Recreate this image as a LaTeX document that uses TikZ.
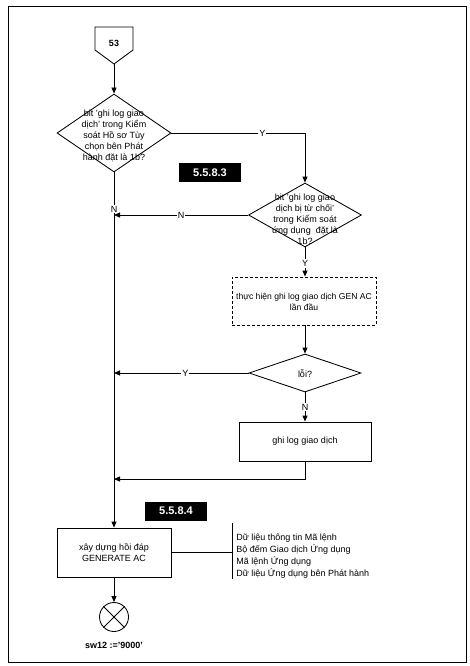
\documentclass[tikz,border=0pt]{standalone}
\usepackage{fontspec}
\setmainfont{Liberation Sans}
\usetikzlibrary{shapes.geometric,arrows.meta}
\begin{document}
\begin{tikzpicture}[x=1pt,y=-1pt,line width=0.85pt,
  txt/.style={font=\fontsize{9}{11}\selectfont,align=center,inner sep=0pt},
  dec/.style={diamond,draw,inner sep=0pt},
  proc/.style={rectangle,draw,inner sep=0pt},
  tag/.style={fill=black,text=white,font=\fontsize{11}{13}\selectfont\bfseries,minimum width=62pt,minimum height=19pt,inner sep=0pt},
  lbl/.style={fill=white,inner sep=1pt,font=\fontsize{9}{11}\selectfont},
  arr/.style={-{Triangle[length=6pt,width=5pt]}}]
\useasboundingbox (0,0) rectangle (470,666);
\draw[line width=1pt] (8,7) rectangle (466,662);

% off-page connector 53
\draw (95,27) -- (133,27) -- (133,50) -- (114,64) -- (95,50) -- cycle;
\node[txt,font=\fontsize{9}{11}\selectfont\bfseries] (c53) at (114,43) {53};
\coordinate (c53tip) at (114,64);

% decision 1
\node[dec,minimum width=114pt,minimum height=78pt] (d1) at (114,133) {};
\node[txt] (d1t) at (114,136) {bit 'ghi log giao\\dịch' trong Kiểm\\soát Hồ sơ Tùy\\chọn bên Phát\\hành đặt là 1b?};

% decision 2
\node[dec,minimum width=113pt,minimum height=64pt] (d2) at (305,215) {};
\node[txt] (d2t) at (305,219) {bit 'ghi log giao\\dịch bị từ chối'\\trong Kiểm soát\\ứng dụng\ \ đặt là\\1b?};

\node[tag] (t1) at (210,172.5) {5.5.8.3};

% dashed process
\node[proc,dashed,dash pattern=on 3pt off 2pt,minimum width=144pt,minimum height=48pt] (gen) at (304,301) {};
\node[txt,font=\fontsize{8.6}{11}\selectfont] (gent) at (304,302) {thực hiện ghi log giao dịch GEN AC\\lần đầu};

% decision 3
\node[dec,minimum width=112pt,minimum height=38pt] (d3) at (305,373) {};
\node[txt] (d3t) at (305,374) {lỗi?};

% log box
\node[proc,minimum width=132pt,minimum height=39pt,txt] (log) at (305,441.5) {ghi log giao dịch};

\node[tag] (t2) at (176,511) {5.5.8.4};

% build response
\node[proc,minimum width=114pt,minimum height=49pt,txt] (build) at (114,552.5) {xây dựng hồi đáp\\GENERATE AC};

% notes
\coordinate (bt) at (232,523);
\coordinate (bb) at (232,579);
\draw (bt) -- (bb);
\node[anchor=west,align=left,inner sep=0pt,font=\fontsize{9}{12}\selectfont] (notes) at (236,556.5)
 {Dữ liệu thông tin Mã lệnh\\Bộ đếm Giao dịch Ứng dụng\\Mã lệnh Ứng dụng\\Dữ liệu Ứng dụng bên Phát hành};
\draw (build.east) -- (build.east -| bt);

% end
\node[circle,draw,minimum size=29pt,inner sep=0pt] (endc) at (114,617) {};
\draw (endc.north west) -- (endc.south east);
\draw (endc.north east) -- (endc.south west);
\node[txt,font=\fontsize{9}{11}\selectfont\bfseries] (sw) at (114,645) {sw12 :='9000'};

% connectors
\coordinate (j1) at (114,215);
\coordinate (j2) at (114,373);
\coordinate (j3) at (114,479);
\draw[arr] (c53tip) -- (d1.north);
\draw[arr] (d1.east) -| node[lbl,pos=0.34] {Y} (d2.north);
\draw[arr] (d1.south) -- node[lbl,pos=0.104] {N} (build.north);
\draw[arr] (d2.west) -- node[lbl,pos=0.5] {N} (j1);
\draw[arr] (d2.south) -- node[lbl,pos=0.55] {Y} (gen.north -| d2.south);
\draw[arr] (gen.south -| d3.north) -- (d3.north);
\draw[arr] (d3.west) -- node[lbl,pos=0.47] {Y} (j2);
\draw[arr] (d3.south) -- node[lbl,pos=0.5] {N} (log.north);
\draw[arr] (log.south) |- (j3);
\draw[arr] (build.south) -- (endc.north);
\end{tikzpicture}
\end{document}
